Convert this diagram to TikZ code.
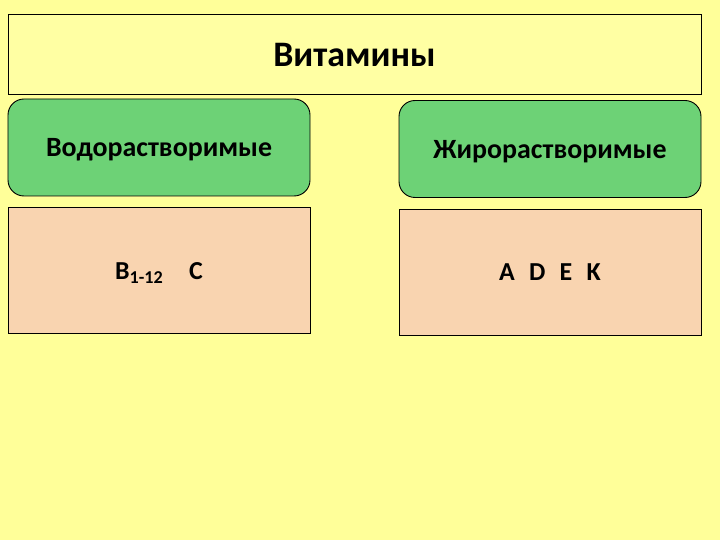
\documentclass[tikz,border=0pt]{standalone}
\usepackage{fontspec}
\setmainfont{Carlito}
\usetikzlibrary{positioning}
\definecolor{slidebg}{HTML}{FFFF99}
\definecolor{titlefill}{HTML}{FFFFA3}
\definecolor{groupgreen}{HTML}{6DD276}
\definecolor{memberpeach}{HTML}{F9D4B0}
\tikzset{
    titlebox/.style={draw, line width=0.9bp, fill=titlefill, minimum width=693bp, minimum height=80bp, text height=26bp, text depth=0bp, font=\bfseries\fontsize{36}{40}\selectfont},
    groupbox/.style={draw, line width=0.9bp, rounded corners=16bp, fill=groupgreen, minimum width=302bp, minimum height=97bp, text height=22bp, text depth=3bp, font=\bfseries\fontsize{28}{32}\selectfont},
    memberbox/.style={draw, line width=0.9bp, fill=memberpeach, minimum width=302bp, minimum height=126bp, text height=17bp, text depth=0bp, font=\bfseries\fontsize{26}{30}\selectfont},
}

\begin{document}
\begin{tikzpicture}[x=1bp, y=-1bp]
    \fill[slidebg] (0,0) rectangle (720,540);

    \node[titlebox] (vit) at (354.5,54) {Витамины};

    \node[groupbox] (water) at (159,147.5) {Водорастворимые};
    \node[groupbox] (fat) at (550,149) {Жирорастворимые};

    \node[memberbox, below=11bp of water] (waterlist) {B\textsubscript{1-12}\quad C};
    \node[memberbox, below=11bp of fat] (fatlist) {A\hspace{0.55em}D\hspace{0.55em}E\hspace{0.55em}K};
\end{tikzpicture}
\end{document}
